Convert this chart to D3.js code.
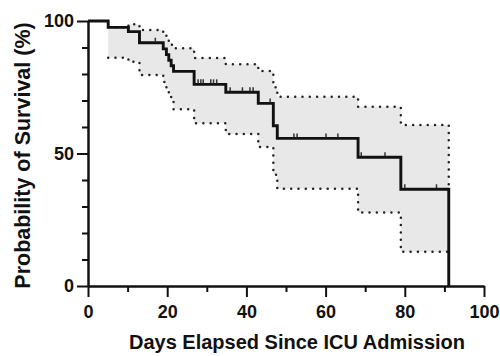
<!DOCTYPE html>
<html>
<head>
<meta charset="utf-8">
<script src="https://cdn.jsdelivr.net/npm/d3@7"></script>
<style>
  html, body { margin: 0; padding: 0; background: #fff; }
  svg { display: block; }
  text { font-family: Arial, "Liberation Sans", Helvetica, sans-serif; font-weight: bold; fill: #111; }
</style>
</head>
<body>
<svg id="chart" width="500" height="356"></svg>
<script>
// ---- data ----
const days     = [0, 5.1, 10.2, 13.0, 19.0, 19.8, 20.4, 21.0, 21.6, 26.8, 34.8, 43.0, 46.8, 47.8, 68.2, 79.0, 91.1];
const survival = [100, 97.6, 96.0, 91.8, 89.5, 87.3, 85.2, 83.1, 81.0, 76.1, 73.1, 68.9, 60.5, 55.7, 48.6, 36.5, 0];
const upperCI  = [100, 97.6, 98.8, 96.6, 95.0, 93.5, 92.0, 91.0, 89.7, 86.0, 83.7, 81.1, 75.0, 71.4, 67.6, 60.8, 36.5];
const lowerCI  = [100, 86.1, 84.6, 79.6, 77.0, 74.5, 72.5, 70.5, 66.7, 61.4, 57.4, 52.5, 42.0, 36.7, 27.7, 12.9, 12.9];
const censorDays = [17.0, 27.8, 28.5, 29.1, 31.0, 31.7, 32.5, 35.9, 39.0, 40.9, 41.7, 46.0, 52.0, 52.8, 60.1, 63.1, 69.0, 75.0, 80.0, 88.0];
const xMajorTicks = [0, 20, 40, 60, 80, 100];
const xMinorTicks = [10, 30, 50, 70, 90];
const yMajorTicks = [0, 50, 100];
const yMinorTicks = [10, 20, 30, 40, 60, 70, 80, 90];
const xTitle = "Days Elapsed Since ICU Admission";
const yTitle = "Probability of Survival (%)";

// ---- layout ----
const svg = d3.select("#chart");
const L = 88, R = 484, T = 21, B = 286;
const x = d3.scaleLinear().domain([0, 100]).range([L, R]);
const y = d3.scaleLinear().domain([0, 100]).range([B, T]);

const pts = days.map((d, i) => ({ d, s: survival[i], u: upperCI[i], l: lowerCI[i] }));
const n = pts.length;

// confidence band (from first event to last time point)
const bandPts = pts.slice(1, n - 1).concat([{ d: days[n - 1], u: upperCI[n - 2], l: lowerCI[n - 2] }]);
svg.append("path")
  .datum(bandPts)
  .attr("fill", "#e8e8e8")
  .attr("d", d3.area().curve(d3.curveStepAfter).x(p => x(p.d)).y0(p => y(p.l)).y1(p => y(p.u)));

// dotted CI lines
const dotStyle = sel => sel.attr("fill", "none").attr("stroke", "#222").attr("stroke-width", 2.5)
  .attr("stroke-linecap", "round").attr("stroke-dasharray", "0,7.3");
svg.append("path")
  .datum(pts.slice(1))
  .call(dotStyle)
  .attr("d", d3.line().curve(d3.curveStepAfter).x(p => x(p.d)).y(p => y(p.u)));
svg.append("path")
  .datum(pts.slice(1))
  .call(dotStyle)
  .attr("d", d3.line().curve(d3.curveStepAfter).x(p => x(p.d)).y(p => y(p.l)));

// survival step curve
svg.append("path")
  .datum(pts)
  .attr("fill", "none")
  .attr("stroke", "#111")
  .attr("stroke-width", 2.9)
  .attr("d", d3.line().curve(d3.curveStepAfter).x(p => x(p.d)).y(p => y(p.s)));

// censor ticks
const survAt = t => { let v = survival[0]; days.forEach((d, i) => { if (d <= t) v = survival[i]; }); return v; };
svg.append("g").selectAll("line").data(censorDays).join("line")
  .attr("x1", d => x(d)).attr("x2", d => x(d))
  .attr("y1", d => y(survAt(d)) - 1).attr("y2", d => y(survAt(d)) - 5)
  .attr("stroke", "#333").attr("stroke-width", 1.5);

// axes
const styleAxis = g => {
  g.selectAll("path, line").attr("stroke", "#111").attr("stroke-width", 2);
  g.selectAll("text").style("font-size", "18px").attr("fill", "#111");
};
svg.append("g").attr("transform", `translate(0,${B})`)
  .call(d3.axisBottom(x).tickValues(xMinorTicks).tickSize(6).tickSizeOuter(0).tickFormat(""))
  .call(styleAxis);
svg.append("g").attr("transform", `translate(0,${B})`)
  .call(d3.axisBottom(x).tickValues(xMajorTicks).tickSize(11).tickSizeOuter(0).tickPadding(8))
  .call(styleAxis);
svg.append("g").attr("transform", `translate(${L},0)`)
  .call(d3.axisLeft(y).tickValues(yMinorTicks).tickSize(6).tickSizeOuter(0).tickFormat(""))
  .call(styleAxis);
svg.append("g").attr("transform", `translate(${L},0)`)
  .call(d3.axisLeft(y).tickValues(yMajorTicks).tickSize(11).tickSizeOuter(0).tickPadding(3))
  .call(styleAxis);

// titles
svg.append("text").attr("x", 297).attr("y", 349).attr("text-anchor", "middle")
  .style("font-size", "20px").text(xTitle);
svg.append("text").attr("transform", `translate(30,${(T + B) / 2 + 2}) rotate(-90)`).attr("text-anchor", "middle")
  .style("font-size", "21.5px").text(yTitle);
</script>
</body>
</html>
